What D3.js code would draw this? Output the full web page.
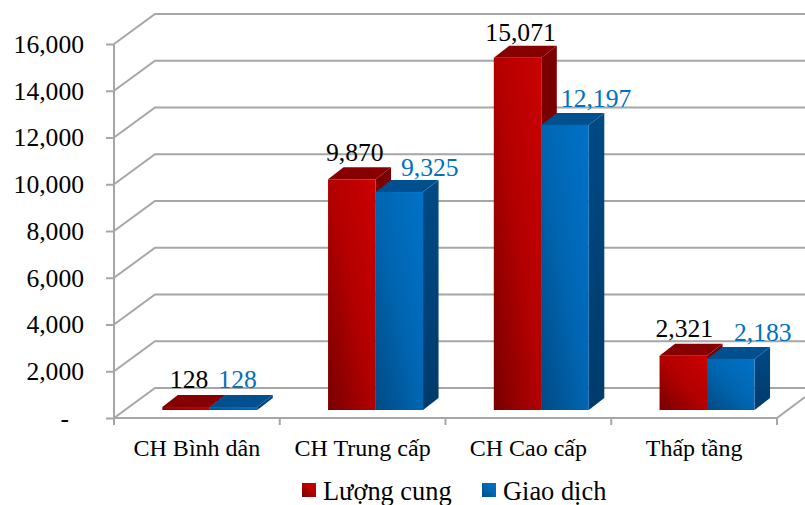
<!DOCTYPE html>
<html><head><meta charset="utf-8">
<script src="https://d3js.org/d3.v7.min.js"></script>
<style>
html,body{margin:0;padding:0;background:#fff}
svg{display:block}
text{font-family:"Liberation Serif","Times New Roman",serif}
</style></head><body><svg id="c" width="805" height="505"></svg>
<script>
const categories = ["CH Bình dân","CH Trung cấp","CH Cao cấp","Thấp tầng"];
const seriesNames = ["Lượng cung","Giao dịch"];
const luongCung = [128,9870,15071,2321];
const giaoDich = [128,9325,12197,2183];
const yTicks = [0,2000,4000,6000,8000,10000,12000,14000,16000];

const svg = d3.select("#c");
const W = 805;
const y = d3.scaleLinear().domain([0,16000]).range([418,44]);
const x = d3.scaleBand().domain(categories).range([114,777]);
const sx = d3.scaleBand().domain(d3.range(2)).range([0,95]);
// 3D projection
const wall = {dx:41, dy:-30};      // axis plane -> back wall
const inset = {dx:13, dy:-8};      // axis plane -> bar front
const depth = {dx:15.5, dy:-12};   // bar front -> bar back
const GRID = "#a6a6a6";

const defs = svg.append("defs");
function grad(id,x1,y1,x2,y2,stops){
  const g = defs.append("linearGradient").attr("id",id)
    .attr("x1",x1).attr("y1",y1).attr("x2",x2).attr("y2",y2);
  stops.forEach((c,i)=>g.append("stop").attr("offset",i/(stops.length-1)).attr("stop-color",c));
}
const palettes = [
  {front:["#780000","#b20000","#cc0000"],top:"#860000",sideStops:["#7c0000","#760000"],id:"redF"},
  {front:["#004a84","#0066b2","#0072c8"],top:"#005090",sideStops:["#004a85","#003a6b"],id:"bluF"}
];
palettes.forEach(p=>{
  grad(p.id,0,1,1,0,p.front);
  grad(p.id+"S",0,0,0,1,p.sideStops);
});

// gridlines on side + back wall
const grid = svg.append("g").attr("fill","none").attr("stroke",GRID).attr("stroke-width",2);
yTicks.forEach(t=>{
  const v = y(t);
  grid.append("path").attr("d",
    d3.line()([[x.range()[0],v],[x.range()[0]+wall.dx,v+wall.dy],[W,v+wall.dy]]));
});
// floor front edge and right edge
grid.append("path").attr("d",d3.line()([[x.range()[0],y(0)],[x.range()[1],y(0)],[W,y(0)-21]]));
// band ticks
const bandEdges = categories.map(c=>x(c)).concat(x.range()[1]);
bandEdges.forEach(e=>grid.append("line").attr("x1",e).attr("x2",e).attr("y1",y(0)).attr("y2",y(0)+7));

// value axis
const axis = svg.append("g").attr("transform",`translate(${x.range()[0]},0)`)
  .call(d3.axisLeft(y).tickValues(yTicks).tickSize(8).tickPadding(22)
    .tickFormat(d=>d===0?"-":d3.format(",")(d)));
axis.selectAll("path,line").attr("stroke",GRID).attr("stroke-width",2);
axis.select(".domain").attr("d",`M0,${y(16000)}V${y(0)+7}`);
axis.selectAll("text").attr("font-size",25.6).attr("fill","#000")
  .attr("font-family","Liberation Serif")
  .attr("dy","0.33em")
  .filter(d=>d===0).attr("dx",-15);

// bars
const series = [luongCung,giaoDich];
const labelColors = ["#000","#0070c0"];
// hand-placed data labels of the reference: shift from bar centre, lift above bar top
const labelShift = [
  [[3,19],[3,18],[3,17],[1,19]],
  [[4,19],[30.5,16],[31,18],[32,18]]
];
const barLeft = (c,si)=>x(c)+35.3+sx(si)+inset.dx;
categories.forEach((c,ci)=>{
  series.forEach((vals,si)=>{
    const v = vals[ci], p = palettes[si];
    const x0 = barLeft(c,si), x1 = x0+sx.bandwidth();
    const yb = y(0)+inset.dy, yt = y(v)+inset.dy;
    const g = svg.append("g");
    const L = d3.line();
    g.append("path").attr("fill",`url(#${p.id}S)`).attr("d",L([[x1,yt],[x1+depth.dx,yt+depth.dy],[x1+depth.dx,yb+depth.dy],[x1,yb]])+"Z");
    g.append("path").attr("fill",p.top).attr("d",L([[x0,yt],[x0+depth.dx,yt+depth.dy],[x1+depth.dx,yt+depth.dy],[x1,yt]])+"Z");
    g.append("rect").attr("x",x0).attr("y",yt).attr("width",x1-x0).attr("height",yb-yt).attr("fill",`url(#${p.id})`);
  });
});
categories.forEach((c,ci)=>{
  series.forEach((vals,si)=>{
    const v = vals[ci];
    const s = labelShift[si][ci];
    svg.append("text").attr("x",barLeft(c,si)+sx.bandwidth()/2+s[0]).attr("y",y(v)+inset.dy-s[1])
      .attr("text-anchor","middle").attr("font-size",25.6).attr("fill",labelColors[si])
      .text(d3.format(",")(v));
  });
});

// category labels
categories.forEach(c=>{
  svg.append("text").attr("x",x(c)+x.bandwidth()/2).attr("y",456)
    .attr("text-anchor","middle").attr("font-size",24).attr("fill","#000").text(c);
});

// legend
const legendPos = [302,482];
seriesNames.forEach((n,i)=>{
  svg.append("rect").attr("x",legendPos[i]).attr("y",483).attr("width",14).attr("height",14)
    .attr("fill",`url(#${palettes[i].id})`);
  svg.append("text").attr("x",legendPos[i]+21).attr("y",500).attr("font-size",26.4).attr("fill","#000").text(n);
});
</script></body></html>
